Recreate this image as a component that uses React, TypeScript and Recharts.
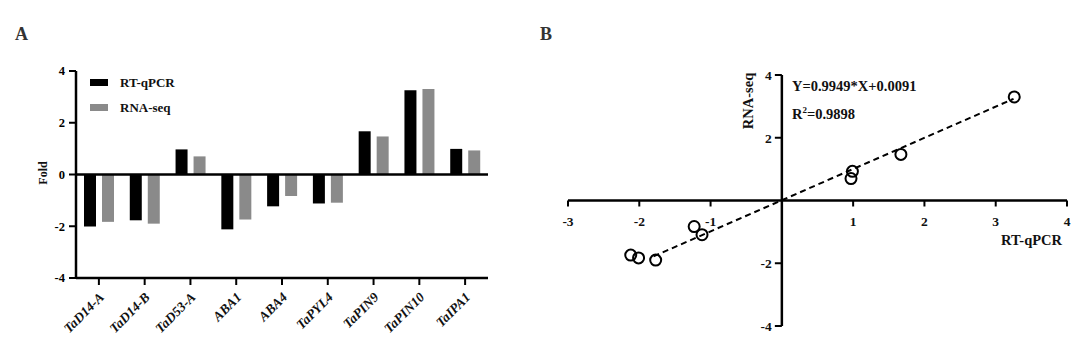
import {
  BarChart,
  Bar,
  XAxis,
  YAxis,
  ReferenceLine,
  ScatterChart,
  Scatter,
} from 'recharts';

const genes = ['TaD14-A', 'TaD14-B', 'TaD53-A', 'ABA1', 'ABA4', 'TaPYL4', 'TaPIN9', 'TaPIN10', 'TaIPA1'];
const rtqpcr = [-2.01, -1.77, 0.97, -2.12, -1.23, -1.12, 1.67, 3.26, 0.99];
const rnaseq = [-1.83, -1.9, 0.7, -1.74, -0.83, -1.09, 1.47, 3.3, 0.93];

const foldTicks = [-4, -2, 0, 2, 4];
const scatterXTicks = [-3, -2, -1, 1, 2, 3, 4];
const scatterYTicks = [-4, -2, 2, 4];
// ends of the dashed fit line
const fitLine = [
  { x: -1.8, y: -1.78 },
  { x: 3.25, y: 3.24 },
];
const legendItems = [
  { label: 'RT-qPCR', color: '#000' },
  { label: 'RNA-seq', color: '#8a8a8a' },
];

const FONT = '"Liberation Serif", "Times New Roman", serif';

const barData = genes.map((name, i) => ({ name, rt: rtqpcr[i], rna: rnaseq[i] }));
const pointData = genes.map((name, i) => ({ name, x: rtqpcr[i], y: rnaseq[i] }));

// panel A geometry (shared by the bar chart and the label overlay)
const A_W = 520;
const A_H = 352;
const A_M = { top: 71, right: 32, bottom: 14, left: 16 };
const A_YAXIS_W = 60;

// panel B geometry
const B_W = 540;
const B_H = 352;
const B_M = { top: 75, right: 13, bottom: 25, left: 27 };
const B_PLOT_W = B_W - B_M.left - 1 - B_M.right;
const B_PLOT_H = B_H - B_M.top - B_M.bottom - 1;
const ZERO_X = B_M.left + 1 + (B_PLOT_W * 3) / 7;
const ZERO_Y = B_M.top + B_PLOT_H / 2;

function GeneTick({ x, y, payload }: any) {
  const ax = x + 6;
  const ay = y + 11;
  return (
    <text
      x={ax}
      y={ay}
      transform={`rotate(-45 ${ax} ${ay})`}
      textAnchor="end"
      fontFamily={FONT}
      fontWeight="bold"
      fontStyle="italic"
      fontSize={13.5}
      fill="#111"
    >
      {payload.value}
    </text>
  );
}

function CrossXTick({ x, payload }: any) {
  return (
    <g>
      <line x1={x} x2={x} y1={ZERO_Y} y2={ZERO_Y + 6} stroke="#000" strokeWidth={2} />
      <text
        x={x}
        y={ZERO_Y + 25}
        textAnchor="middle"
        fontFamily={FONT}
        fontWeight="bold"
        fontSize={13.5}
        fill="#111"
      >
        {payload.value}
      </text>
    </g>
  );
}

function CrossYTick({ y, payload }: any) {
  return (
    <g>
      <line x1={ZERO_X - 7} x2={ZERO_X} y1={y} y2={y} stroke="#000" strokeWidth={2} />
      <text
        x={ZERO_X - 10}
        y={y + 5}
        textAnchor="end"
        fontFamily={FONT}
        fontWeight="bold"
        fontSize={13.5}
        fill="#111"
      >
        {payload.value}
      </text>
    </g>
  );
}

function RingDot({ cx, cy }: any) {
  return <circle cx={cx} cy={cy} r={5.5} fill="none" stroke="#000" strokeWidth={2} />;
}

const textStyle = {
  position: 'absolute' as const,
  fontFamily: FONT,
  fontWeight: 'bold' as const,
  color: '#111',
  whiteSpace: 'nowrap' as const,
  lineHeight: 1,
};

export default function App() {
  return (
    <div style={{ position: 'absolute', left: 0, top: 0, width: 1080, height: 352, background: '#fff' }}>
      <div style={{ ...textStyle, left: 15, top: 25, fontSize: 18, color: '#333' }}>A</div>
      <div style={{ ...textStyle, left: 540, top: 25, fontSize: 18, color: '#333' }}>B</div>

      {/* bars and axis lines: default ticks only, so the axis lines get drawn */}
      <div style={{ position: 'absolute', left: 0, top: 0 }}>
        <BarChart width={A_W} height={A_H} data={barData} margin={A_M} barSize={12} barGap={6}>
          <XAxis
            dataKey="name"
            height={60}
            interval={0}
            stroke="#000"
            axisLine={{ stroke: '#000', strokeWidth: 2.5 }}
            tickLine={{ stroke: '#000', strokeWidth: 2 }}
            tickSize={7}
            tickFormatter={() => ''}
          />
          <YAxis
            width={A_YAXIS_W}
            domain={[-4, 4]}
            ticks={foldTicks}
            stroke="#000"
            fontFamily={FONT}
            fontWeight="bold"
            fontSize={12.5}
            axisLine={{ stroke: '#000', strokeWidth: 2.5 }}
            tickLine={{ stroke: '#000', strokeWidth: 2 }}
            tickSize={7}
            tickMargin={4}
          />
          <Bar dataKey="rt" name="RT-qPCR" fill="#000" isAnimationActive={false} />
          <Bar dataKey="rna" name="RNA-seq" fill="#8a8a8a" isAnimationActive={false} />
          <ReferenceLine y={0} stroke="#000" strokeWidth={2.5} />
        </BarChart>
      </div>

      {/* same layout, only the rotated italic gene names */}
      <div style={{ position: 'absolute', left: 0, top: 0, pointerEvents: 'none' }}>
        <BarChart
          width={A_W}
          height={A_H}
          data={barData}
          margin={{ ...A_M, left: A_M.left + A_YAXIS_W }}
        >
          <XAxis
            dataKey="name"
            height={60}
            interval={0}
            axisLine={false}
            tickLine={false}
            tickSize={7}
            tick={<GeneTick />}
          />
        </BarChart>
      </div>

      <div style={{ position: 'absolute', left: 90, top: 70, fontFamily: FONT, fontWeight: 'bold', fontSize: 13, color: '#111' }}>
        {legendItems.map(it => (
          <div key={it.label} style={{ display: 'flex', alignItems: 'center', height: 25 }}>
            <div style={{ width: 18, height: 7, background: it.color, marginRight: 12 }} />
            {it.label}
          </div>
        ))}
      </div>

      <div
        style={{
          ...textStyle,
          left: 43,
          top: 173,
          fontSize: 12,
          transform: 'translate(-50%, -50%) rotate(-90deg)',
        }}
      >
        Fold
      </div>

      <div style={{ position: 'absolute', left: 540, top: 0 }}>
        <ScatterChart width={B_W} height={B_H} margin={B_M}>
          <XAxis
            type="number"
            dataKey="x"
            domain={[-3, 4]}
            ticks={scatterXTicks}
            interval={0}
            height={1}
            axisLine={false}
            tickLine={false}
            tick={<CrossXTick />}
          />
          <YAxis
            type="number"
            dataKey="y"
            domain={[-4, 4]}
            ticks={scatterYTicks}
            interval={0}
            width={1}
            axisLine={false}
            tickLine={false}
            tick={<CrossYTick />}
          />
          <ReferenceLine y={0} stroke="#000" strokeWidth={2.5} />
          <ReferenceLine x={0} stroke="#000" strokeWidth={2.5} />
          <ReferenceLine
            segment={fitLine}
            stroke="#000"
            strokeWidth={2}
            strokeDasharray="6 4"
          />
          <Scatter data={pointData} shape={<RingDot />} isAnimationActive={false} />
        </ScatterChart>
      </div>

      <div style={{ ...textStyle, left: 792, top: 79, fontSize: 14.5 }}>Y=0.9949*X+0.0091</div>
      <div style={{ ...textStyle, left: 792, top: 106, fontSize: 14.5 }}>
        R<sup style={{ fontSize: 9, verticalAlign: 6 }}>2</sup>=0.9898
      </div>
      <div style={{ ...textStyle, left: 1001, top: 233, fontSize: 14.5 }}>RT-qPCR</div>
      <div
        style={{
          ...textStyle,
          left: 748,
          top: 101,
          fontSize: 14.5,
          transform: 'translate(-50%, -50%) rotate(-90deg)',
        }}
      >
        RNA-seq
      </div>
    </div>
  );
}
